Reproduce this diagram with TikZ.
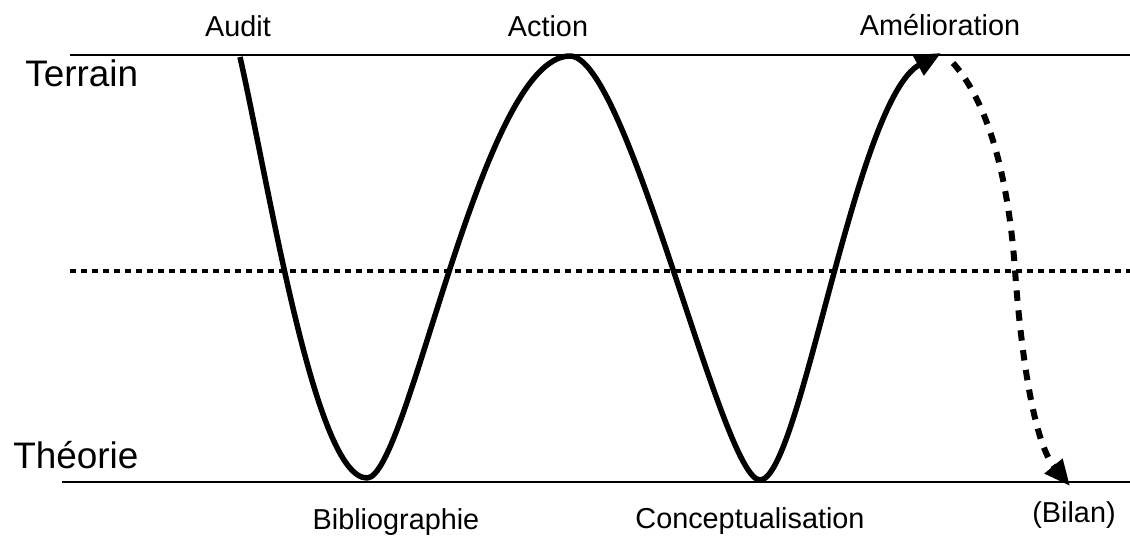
\documentclass[tikz,border=0pt]{standalone}
\usepackage{fontspec}
\setmainfont{Liberation Sans}
\usetikzlibrary{arrows.meta}
\begin{document}
\begin{tikzpicture}[x=0.02cm,y=-0.02cm,
  guide/.style={line width=0.05cm},
  midline/.style={line width=0.07cm, dash pattern=on 0.12cm off 0.10cm},
  wave/.style={line width=0.11cm, line join=round},
  back/.style={line width=0.12cm, dash pattern=on 0.21cm off 0.19cm},
  tipbig/.style={-{Triangle[length=0.52cm,width=0.44cm]}},
  small/.style={font=\fontsize{16.4}{18}\selectfont, inner sep=0pt, anchor=base},
  big/.style={font=\fontsize{21}{24}\selectfont, inner sep=0pt, anchor=base west},
]
\useasboundingbox (0,0) rectangle (1130,537);
% guide lines
\coordinate (tL) at (70,55);  \coordinate (tR) at (1130,55);
\coordinate (mL) at (70,271); \coordinate (mR) at (1130,271);
\coordinate (bL) at (62,482); \coordinate (bR) at (1130,482);
\draw[guide] (tL) -- (tR);
\draw[guide] (bL) -- (bR);
\draw[midline] (mL) -- (mR);
% labels
\node[small] (audit) at (238,37) {Audit};
\node[small] (action) at (548,37) {Action};
\node[small] (amel) at (940,36) {Amélioration};
\node[big] (terrain) at (25,87) {Terrain};
\node[big] (theorie) at (13,468) {Théorie};
\node[small] (biblio) at (396,529) {Bibliographie};
\node[small] (concept) at (750,528) {Conceptualisation};
\node[small] (bilan) at (1074,522) {(Bilan)};
% wave points
\coordinate (pA) at (240,57);
\coordinate (pB) at (367,478);
\coordinate (pC) at (570,56);
\coordinate (pD) at (760,480);
\coordinate (pE) at (941,53);
\draw[wave,tipbig] (pA) .. controls (270,190) and (315,478) .. (pB)
  .. controls (408,478) and (481,56) .. (pC)
  .. controls (628,56) and (722,480) .. (pD)
  .. controls (800,480) and (855,100) .. (pE);
% dashed return
\coordinate (qA) at (953,63);
\coordinate (qB) at (1015,270);
\coordinate (qC) at (1070,486);
\draw[back,tipbig] (qA) .. controls (995,110) and (1010,200) .. (qB)
  .. controls (1020,340) and (1032,440) .. (qC);
\end{tikzpicture}
\end{document}
